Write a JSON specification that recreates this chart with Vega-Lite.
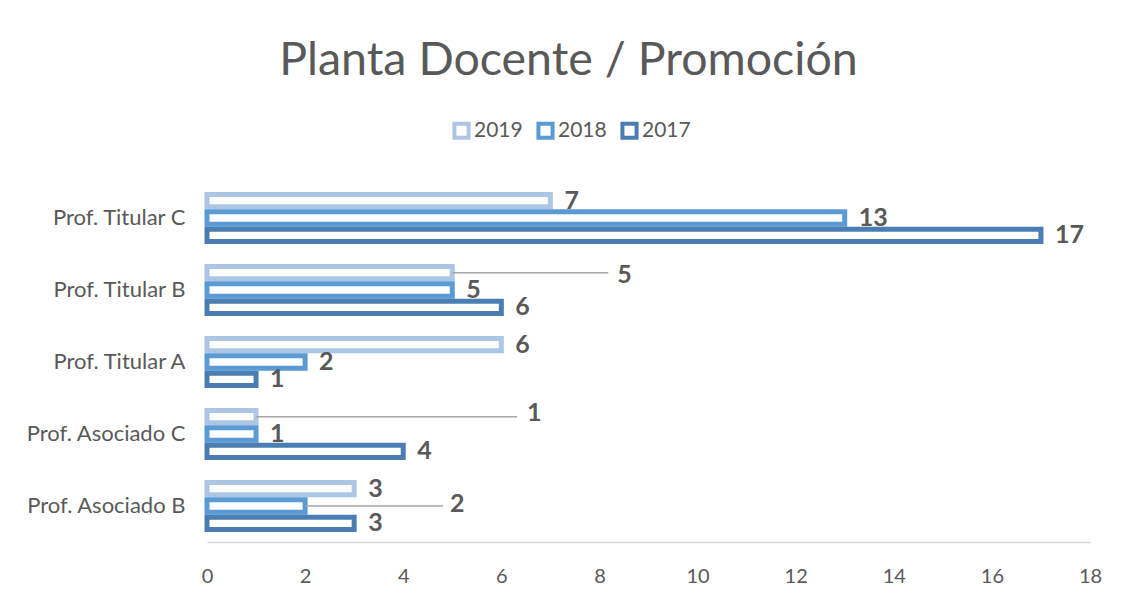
{
  "$schema": "https://vega.github.io/schema/vega-lite/v6.json",
  "width": 883,
  "height": 360,
  "autosize": {"type": "none"},
  "padding": {"left": 207, "top": 182, "right": 31, "bottom": 58},
  "background": "white",
  "title": {
    "text": "Planta Docente / Promoción",
    "font": "Lato",
    "fontSize": 46.5,
    "fontWeight": "normal",
    "color": "#595959",
    "anchor": "middle",
    "dx": -80,
    "offset": 36
  },
  "config": {
    "view": {"stroke": null},
    "font": "Lato"
  },
  "data": {
    "values": [
      {"cat": "Prof. Titular C", "year": "2019", "value": 7},
      {"cat": "Prof. Titular C", "year": "2018", "value": 13},
      {"cat": "Prof. Titular C", "year": "2017", "value": 17},
      {"cat": "Prof. Titular B", "year": "2019", "value": 5},
      {"cat": "Prof. Titular B", "year": "2018", "value": 5},
      {"cat": "Prof. Titular B", "year": "2017", "value": 6},
      {"cat": "Prof. Titular A", "year": "2019", "value": 6},
      {"cat": "Prof. Titular A", "year": "2018", "value": 2},
      {"cat": "Prof. Titular A", "year": "2017", "value": 1},
      {"cat": "Prof. Asociado C", "year": "2019", "value": 1},
      {"cat": "Prof. Asociado C", "year": "2018", "value": 1},
      {"cat": "Prof. Asociado C", "year": "2017", "value": 4},
      {"cat": "Prof. Asociado B", "year": "2019", "value": 3},
      {"cat": "Prof. Asociado B", "year": "2018", "value": 2},
      {"cat": "Prof. Asociado B", "year": "2017", "value": 3}
    ]
  },
  "encoding": {
    "y": {
      "field": "cat",
      "type": "nominal",
      "sort": ["Prof. Titular C", "Prof. Titular B", "Prof. Titular A", "Prof. Asociado C", "Prof. Asociado B"],
      "scale": {"paddingInner": 0.28, "paddingOuter": 0.14},
      "axis": {
        "title": null,
        "domain": false,
        "ticks": false,
        "labelPadding": 22,
        "labelFontSize": 22,
        "labelColor": "#595959",
        "labelFont": "Lato"
      }
    },
    "yOffset": {
      "field": "year",
      "type": "nominal",
      "sort": ["2019", "2018", "2017"],
      "scale": {"paddingInner": 0.29, "paddingOuter": 0.145}
    }
  },
  "layer": [
    {
      "mark": {"type": "bar", "fill": "white", "strokeWidth": 5, "strokeJoin": "miter"},
      "encoding": {
        "x": {
          "field": "value",
          "type": "quantitative",
          "scale": {"domain": [0, 18], "nice": false},
          "axis": {
            "title": null,
            "values": [0, 2, 4, 6, 8, 10, 12, 14, 16, 18],
            "grid": false,
            "ticks": false,
            "labelFlush": false,
            "domainColor": "#d9d9d9",
            "domainWidth": 1.5,
            "labelPadding": 24,
            "labelFontSize": 20,
            "labelColor": "#595959",
            "labelFont": "Lato"
          }
        },
        "stroke": {
          "field": "year",
          "type": "nominal",
          "sort": ["2019", "2018", "2017"],
          "scale": {"domain": ["2019", "2018", "2017"], "range": ["#adc6e5", "#5b9bd5", "#4a7eb3"]},
          "legend": {
            "title": null,
            "orient": "none",
            "legendX": 244,
            "legendY": -62,
            "direction": "horizontal",
            "symbolType": "square",
            "symbolSize": 200,
            "symbolStrokeWidth": 4,
            "symbolFillColor": "white",
            "labelFontSize": 21,
            "labelColor": "#595959",
            "labelFont": "Lato",
            "labelOffset": 2,
            "columnPadding": 7
          }
        }
      }
    },
    {
      "transform": [
        {"filter": "!((datum.cat == 'Prof. Titular B' && datum.year == '2019') || (datum.cat == 'Prof. Asociado C' && datum.year == '2019') || (datum.cat == 'Prof. Asociado B' && datum.year == '2018'))"}
      ],
      "mark": {"type": "text", "align": "left", "baseline": "middle", "dx": 14, "fontSize": 25, "fontWeight": "bold", "color": "#595959", "font": "Lato"},
      "encoding": {
        "x": {"field": "value", "type": "quantitative"},
        "text": {"field": "value", "type": "quantitative"}
      }
    },
    {
      "transform": [{"filter": "datum.cat == 'Prof. Titular B' && datum.year == '2019'"}],
      "layer": [
        {
          "mark": {"type": "rule", "color": "#a6a6a6", "strokeWidth": 1.5, "x2Offset": 156},
          "encoding": {
            "x": {"field": "value", "type": "quantitative"},
            "x2": {"field": "value"}
          }
        },
        {
          "mark": {"type": "text", "align": "left", "baseline": "middle", "dx": 165, "dy": 2, "fontSize": 25, "fontWeight": "bold", "color": "#595959", "font": "Lato"},
          "encoding": {
            "x": {"field": "value", "type": "quantitative"},
            "text": {"field": "value", "type": "quantitative"}
          }
        }
      ]
    },
    {
      "transform": [{"filter": "datum.cat == 'Prof. Asociado C' && datum.year == '2019'"}],
      "layer": [
        {
          "mark": {"type": "rule", "color": "#a6a6a6", "strokeWidth": 1.5, "x2Offset": 261},
          "encoding": {
            "x": {"field": "value", "type": "quantitative"},
            "x2": {"field": "value"}
          }
        },
        {
          "mark": {"type": "text", "align": "left", "baseline": "middle", "dx": 271, "dy": -4, "fontSize": 25, "fontWeight": "bold", "color": "#595959", "font": "Lato"},
          "encoding": {
            "x": {"field": "value", "type": "quantitative"},
            "text": {"field": "value", "type": "quantitative"}
          }
        }
      ]
    },
    {
      "transform": [{"filter": "datum.cat == 'Prof. Asociado B' && datum.year == '2018'"}],
      "layer": [
        {
          "mark": {"type": "rule", "color": "#a6a6a6", "strokeWidth": 1.5, "x2Offset": 138},
          "encoding": {
            "x": {"field": "value", "type": "quantitative"},
            "x2": {"field": "value"}
          }
        },
        {
          "mark": {"type": "text", "align": "left", "baseline": "middle", "dx": 145, "dy": -2, "fontSize": 25, "fontWeight": "bold", "color": "#595959", "font": "Lato"},
          "encoding": {
            "x": {"field": "value", "type": "quantitative"},
            "text": {"field": "value", "type": "quantitative"}
          }
        }
      ]
    }
  ]
}
